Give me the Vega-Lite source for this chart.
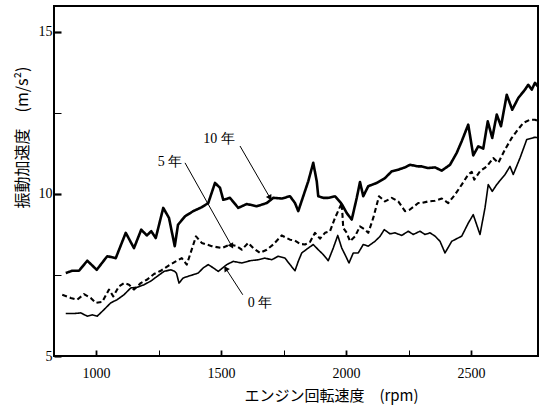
{
  "$schema": "https://vega.github.io/schema/vega-lite/v6.json",
  "width": 484,
  "height": 350,
  "autosize": {"type": "none"},
  "padding": {"left": 54, "top": 6, "right": 4, "bottom": 49},
  "background": "white",
  "config": {
    "view": {"stroke": "black", "strokeWidth": 2},
    "axis": {"domain": false, "tickColor": "black", "grid": false, "ticks": true, "zindex": 2,
      "labelFont": "Liberation Serif", "labelFontSize": 14, "labelColor": "black",
      "titleFont": "Noto Sans CJK JP", "titleFontWeight": "normal", "titleColor": "black"}
  },
  "datasets": {
    "lines": [
      {"s":"10年","x":879,"y":7.56},{"s":"10年","x":905,"y":7.63},{"s":"10年","x":932,"y":7.63},{"s":"10年","x":965,"y":7.94},{"s":"10年","x":1003,"y":7.66},{"s":"10年","x":1045,"y":8.08},{"s":"10年","x":1079,"y":8.02},{"s":"10年","x":1119,"y":8.80},{"s":"10年","x":1152,"y":8.33},{"s":"10年","x":1181,"y":8.90},{"s":"10年","x":1203,"y":8.72},{"s":"10年","x":1221,"y":8.85},{"s":"10年","x":1239,"y":8.64},{"s":"10年","x":1269,"y":9.57},{"s":"10年","x":1292,"y":9.26},{"s":"10年","x":1315,"y":8.39},{"s":"10年","x":1328,"y":9.05},{"s":"10年","x":1356,"y":9.31},{"s":"10年","x":1389,"y":9.47},{"s":"10年","x":1423,"y":9.59},{"s":"10年","x":1449,"y":9.72},{"s":"10年","x":1476,"y":10.34},{"s":"10年","x":1496,"y":10.19},{"s":"10年","x":1509,"y":9.82},{"s":"10年","x":1536,"y":9.88},{"s":"10年","x":1569,"y":9.57},{"s":"10年","x":1603,"y":9.69},{"s":"10年","x":1643,"y":9.62},{"s":"10年","x":1683,"y":9.72},{"s":"10年","x":1709,"y":9.88},{"s":"10年","x":1743,"y":9.86},{"s":"10年","x":1776,"y":9.93},{"s":"10年","x":1796,"y":9.72},{"s":"10年","x":1809,"y":9.47},{"s":"10年","x":1829,"y":9.93},{"s":"10年","x":1849,"y":10.39},{"s":"10年","x":1869,"y":10.96},{"s":"10年","x":1883,"y":10.39},{"s":"10年","x":1889,"y":9.93},{"s":"10年","x":1909,"y":9.88},{"s":"10年","x":1929,"y":9.88},{"s":"10年","x":1956,"y":9.93},{"s":"10年","x":1983,"y":9.69},{"s":"10年","x":2003,"y":9.41},{"s":"10年","x":2023,"y":9.21},{"s":"10年","x":2043,"y":9.88},{"s":"10年","x":2056,"y":10.37},{"s":"10年","x":2069,"y":9.93},{"s":"10年","x":2089,"y":10.24},{"s":"10年","x":2123,"y":10.34},{"s":"10年","x":2156,"y":10.49},{"s":"10年","x":2183,"y":10.70},{"s":"10年","x":2209,"y":10.75},{"s":"10年","x":2236,"y":10.82},{"s":"10年","x":2256,"y":10.90},{"s":"10年","x":2289,"y":10.85},{"s":"10年","x":2303,"y":10.85},{"s":"10年","x":2329,"y":10.80},{"s":"10年","x":2356,"y":10.82},{"s":"10年","x":2383,"y":10.72},{"s":"10年","x":2416,"y":10.90},{"s":"10年","x":2443,"y":11.27},{"s":"10年","x":2463,"y":11.63},{"s":"10年","x":2489,"y":12.14},{"s":"10年","x":2509,"y":11.19},{"s":"10年","x":2529,"y":11.47},{"s":"10年","x":2549,"y":11.40},{"s":"10年","x":2567,"y":12.24},{"s":"10年","x":2585,"y":11.73},{"s":"10年","x":2603,"y":12.45},{"s":"10年","x":2620,"y":12.09},{"s":"10年","x":2643,"y":13.06},{"s":"10年","x":2665,"y":12.60},{"s":"10年","x":2689,"y":12.96},{"s":"10年","x":2716,"y":13.22},{"s":"10年","x":2729,"y":13.37},{"s":"10年","x":2743,"y":13.22},{"s":"10年","x":2756,"y":13.43},{"s":"10年","x":2767,"y":13.32},
      {"s":"5年","x":865,"y":6.89},{"s":"5年","x":899,"y":6.79},{"s":"5年","x":925,"y":6.74},{"s":"5年","x":952,"y":6.91},{"s":"5年","x":979,"y":6.79},{"s":"5年","x":999,"y":6.64},{"s":"5年","x":1025,"y":6.67},{"s":"5年","x":1052,"y":7.05},{"s":"5年","x":1069,"y":6.84},{"s":"5年","x":1092,"y":7.15},{"s":"5年","x":1112,"y":7.25},{"s":"5年","x":1132,"y":7.20},{"s":"5年","x":1152,"y":7.05},{"s":"5年","x":1179,"y":7.25},{"s":"5年","x":1205,"y":7.36},{"s":"5年","x":1232,"y":7.53},{"s":"5年","x":1259,"y":7.63},{"s":"5年","x":1292,"y":7.80},{"s":"5年","x":1319,"y":7.92},{"s":"5年","x":1343,"y":8.02},{"s":"5年","x":1363,"y":7.82},{"s":"5年","x":1400,"y":8.69},{"s":"5年","x":1423,"y":8.49},{"s":"5年","x":1463,"y":8.39},{"s":"5年","x":1503,"y":8.33},{"s":"5年","x":1536,"y":8.44},{"s":"5年","x":1563,"y":8.39},{"s":"5年","x":1583,"y":8.28},{"s":"5年","x":1609,"y":8.49},{"s":"5年","x":1629,"y":8.33},{"s":"5年","x":1656,"y":8.18},{"s":"5年","x":1683,"y":8.28},{"s":"5年","x":1709,"y":8.44},{"s":"5年","x":1743,"y":8.72},{"s":"5年","x":1776,"y":8.59},{"s":"5年","x":1796,"y":8.56},{"s":"5年","x":1816,"y":8.46},{"s":"5年","x":1836,"y":8.44},{"s":"5年","x":1856,"y":8.52},{"s":"5年","x":1876,"y":8.80},{"s":"5年","x":1896,"y":8.62},{"s":"5年","x":1916,"y":8.80},{"s":"5年","x":1936,"y":8.85},{"s":"5年","x":1956,"y":9.26},{"s":"5年","x":1983,"y":9.72},{"s":"5年","x":1989,"y":8.95},{"s":"5年","x":2003,"y":8.80},{"s":"5年","x":2016,"y":8.54},{"s":"5年","x":2036,"y":8.69},{"s":"5年","x":2056,"y":9.00},{"s":"5年","x":2076,"y":8.90},{"s":"5年","x":2089,"y":8.80},{"s":"5年","x":2109,"y":9.26},{"s":"5年","x":2132,"y":9.93},{"s":"5年","x":2156,"y":9.77},{"s":"5年","x":2183,"y":9.88},{"s":"5年","x":2209,"y":9.77},{"s":"5年","x":2236,"y":9.47},{"s":"5年","x":2256,"y":9.52},{"s":"5年","x":2289,"y":9.72},{"s":"5年","x":2303,"y":9.72},{"s":"5年","x":2329,"y":9.77},{"s":"5年","x":2356,"y":9.79},{"s":"5年","x":2383,"y":9.86},{"s":"5年","x":2409,"y":9.72},{"s":"5年","x":2436,"y":9.98},{"s":"5年","x":2463,"y":10.29},{"s":"5年","x":2489,"y":10.60},{"s":"5年","x":2503,"y":10.68},{"s":"5年","x":2513,"y":10.44},{"s":"5年","x":2536,"y":10.70},{"s":"5年","x":2563,"y":10.85},{"s":"5年","x":2589,"y":11.11},{"s":"5年","x":2609,"y":10.96},{"s":"5年","x":2636,"y":11.37},{"s":"5年","x":2663,"y":11.73},{"s":"5年","x":2683,"y":11.94},{"s":"5年","x":2709,"y":12.19},{"s":"5年","x":2736,"y":12.29},{"s":"5年","x":2756,"y":12.29},{"s":"5年","x":2767,"y":12.26},
      {"s":"0年","x":879,"y":6.31},{"s":"0年","x":912,"y":6.31},{"s":"0年","x":939,"y":6.33},{"s":"0年","x":965,"y":6.23},{"s":"0年","x":985,"y":6.27},{"s":"0年","x":1005,"y":6.23},{"s":"0年","x":1032,"y":6.43},{"s":"0年","x":1059,"y":6.64},{"s":"0年","x":1085,"y":6.74},{"s":"0年","x":1112,"y":6.89},{"s":"0年","x":1139,"y":7.10},{"s":"0年","x":1165,"y":7.12},{"s":"0年","x":1192,"y":7.20},{"s":"0年","x":1219,"y":7.31},{"s":"0年","x":1245,"y":7.46},{"s":"0年","x":1272,"y":7.61},{"s":"0年","x":1299,"y":7.66},{"s":"0年","x":1315,"y":7.61},{"s":"0年","x":1322,"y":7.55},{"s":"0年","x":1332,"y":7.25},{"s":"0年","x":1349,"y":7.41},{"s":"0年","x":1369,"y":7.46},{"s":"0年","x":1389,"y":7.51},{"s":"0年","x":1409,"y":7.56},{"s":"0年","x":1429,"y":7.72},{"s":"0年","x":1449,"y":7.82},{"s":"0年","x":1469,"y":7.72},{"s":"0年","x":1489,"y":7.61},{"s":"0年","x":1523,"y":7.82},{"s":"0年","x":1549,"y":7.92},{"s":"0年","x":1583,"y":7.87},{"s":"0年","x":1616,"y":7.94},{"s":"0年","x":1649,"y":7.97},{"s":"0年","x":1676,"y":8.02},{"s":"0年","x":1703,"y":7.97},{"s":"0年","x":1729,"y":8.08},{"s":"0年","x":1756,"y":8.02},{"s":"0年","x":1776,"y":7.82},{"s":"0年","x":1796,"y":7.63},{"s":"0年","x":1809,"y":7.92},{"s":"0年","x":1823,"y":8.18},{"s":"0年","x":1849,"y":8.33},{"s":"0年","x":1869,"y":8.44},{"s":"0年","x":1889,"y":8.28},{"s":"0年","x":1909,"y":8.13},{"s":"0年","x":1929,"y":7.94},{"s":"0年","x":1949,"y":8.33},{"s":"0年","x":1967,"y":8.72},{"s":"0年","x":1983,"y":8.33},{"s":"0年","x":1996,"y":8.13},{"s":"0年","x":2012,"y":7.87},{"s":"0年","x":2029,"y":8.18},{"s":"0年","x":2049,"y":8.18},{"s":"0年","x":2069,"y":8.44},{"s":"0年","x":2089,"y":8.39},{"s":"0年","x":2116,"y":8.54},{"s":"0年","x":2136,"y":8.69},{"s":"0年","x":2153,"y":8.90},{"s":"0年","x":2176,"y":8.77},{"s":"0年","x":2196,"y":8.80},{"s":"0年","x":2223,"y":8.72},{"s":"0年","x":2249,"y":8.85},{"s":"0年","x":2269,"y":8.75},{"s":"0年","x":2296,"y":8.85},{"s":"0年","x":2316,"y":8.75},{"s":"0年","x":2336,"y":8.80},{"s":"0年","x":2356,"y":8.70},{"s":"0年","x":2376,"y":8.54},{"s":"0年","x":2396,"y":8.18},{"s":"0年","x":2423,"y":8.54},{"s":"0年","x":2463,"y":8.70},{"s":"0年","x":2489,"y":9.10},{"s":"0年","x":2509,"y":9.36},{"s":"0年","x":2536,"y":8.75},{"s":"0年","x":2556,"y":9.57},{"s":"0年","x":2569,"y":10.29},{"s":"0年","x":2585,"y":10.08},{"s":"0年","x":2603,"y":10.29},{"s":"0年","x":2636,"y":10.60},{"s":"0年","x":2656,"y":10.85},{"s":"0年","x":2669,"y":10.60},{"s":"0年","x":2696,"y":11.11},{"s":"0年","x":2723,"y":11.68},{"s":"0年","x":2756,"y":11.75},{"s":"0年","x":2767,"y":11.73}
    ],
    "notes": [
      {"label":"10 年","tx":1492,"ty":11.70,"x1":1576,"y1":11.48,"x2":1696,"y2":9.88,"dir":"down"},
      {"label":"5 年","tx":1296,"ty":10.99,"x1":1356,"y1":10.96,"x2":1543,"y2":8.39,"dir":"down"},
      {"label":"0 年","tx":1656,"ty":6.64,"x1":1587,"y1":6.89,"x2":1519,"y2":7.70,"dir":"up"}
    ]
  },
  "layer": [
    {
      "data": {"name": "lines"},
      "mark": {"type": "line", "color": "black", "strokeJoin": "round"},
      "encoding": {
        "x": {"field": "x", "type": "quantitative",
          "scale": {"domain": [832, 2768], "nice": false, "zero": false},
          "axis": {"values": [1000, 1250, 1500, 1750, 2000, 2250, 2500],
            "labelExpr": "datum.value % 500 === 0 ? datum.value : ''",
            "offset": -6, "tickSize": 6,
            "tickWidth": {"condition": {"test": "datum.value % 500 === 0", "value": 1.8}, "value": 1},
            "labelPadding": 10,
            "title": "エンジン回転速度　(rpm)", "titleFontSize": 15,
            "titleX": 277, "titleY": 45, "titleBaseline": "middle", "titleAnchor": null}},
        "y": {"field": "y", "type": "quantitative",
          "scale": {"domain": [5, 15.8], "nice": false, "zero": false},
          "axis": {"values": [5, 7.5, 10, 12.5, 15],
            "labelExpr": "datum.value % 5 === 0 ? datum.value : ''",
            "offset": -7, "tickSize": 7,
            "tickWidth": {"condition": {"test": "datum.value % 5 === 0", "value": 2.2}, "value": 1},
            "labelPadding": 2,
            "title": "振動加速度　(m/s²)", "titleFontSize": 16,
            "titleX": -39, "titleY": 131, "titleBaseline": "middle", "titleAlign": "center", "titleAngle": -90}},
        "detail": {"field": "s"},
        "strokeWidth": {"field": "s", "type": "nominal", "scale": {"domain": ["10年", "5年", "0年"], "range": [2.6, 1.6, 1.3]}, "legend": null},
        "strokeDash": {"field": "s", "type": "nominal", "scale": {"domain": ["10年", "5年", "0年"], "range": [[1, 0], [5, 3], [1, 0]]}, "legend": null}
      }
    },
    {
      "data": {"name": "notes"},
      "mark": {"type": "rule", "color": "black", "strokeWidth": 1},
      "encoding": {
        "x": {"field": "x1", "type": "quantitative"},
        "y": {"field": "y1", "type": "quantitative"},
        "x2": {"field": "x2"},
        "y2": {"field": "y2"}
      }
    },
    {
      "data": {"name": "notes"},
      "transform": [{"filter": "datum.dir === 'down'"}],
      "mark": {"type": "point", "shape": "triangle-up", "filled": true, "color": "black", "size": 40, "angle": 150, "opacity": 1},
      "encoding": {
        "x": {"field": "x2", "type": "quantitative"},
        "y": {"field": "y2", "type": "quantitative"}
      }
    },
    {
      "data": {"name": "notes"},
      "transform": [{"filter": "datum.dir === 'up'"}],
      "mark": {"type": "point", "shape": "triangle-up", "filled": true, "color": "black", "size": 40, "angle": 327, "opacity": 1},
      "encoding": {
        "x": {"field": "x2", "type": "quantitative"},
        "y": {"field": "y2", "type": "quantitative"}
      }
    },
    {
      "data": {"name": "notes"},
      "mark": {"type": "text", "font": "Liberation Serif", "fontSize": 14, "color": "black", "align": "center", "baseline": "middle"},
      "encoding": {
        "x": {"field": "tx", "type": "quantitative"},
        "y": {"field": "ty", "type": "quantitative"},
        "text": {"field": "label"}
      }
    }
  ]
}
